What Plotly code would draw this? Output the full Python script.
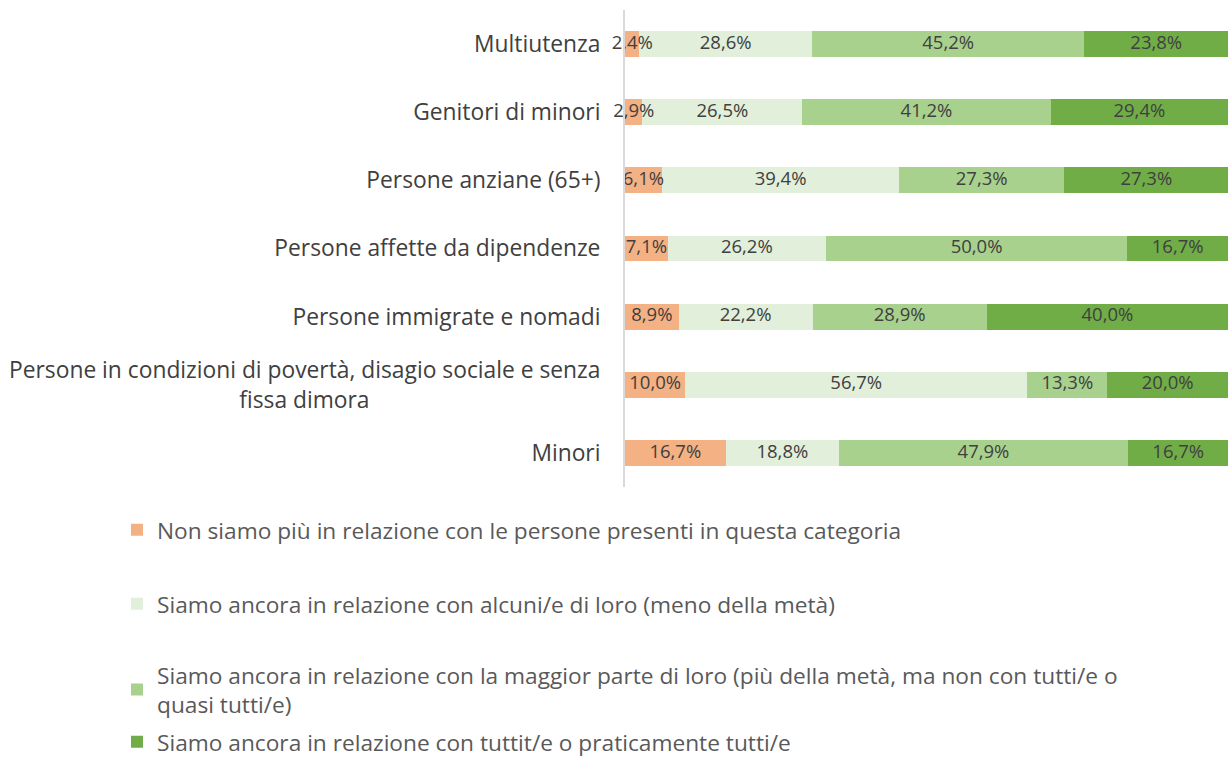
import plotly.graph_objects as go

categories = [
    "Multiutenza",
    "Genitori di minori",
    "Persone anziane (65+)",
    "Persone affette da dipendenze",
    "Persone immigrate e nomadi",
    "Persone in condizioni di povertà, disagio sociale e senza<br>fissa dimora" + "\u00a0" * 39,
    "Minori",
]

series_names = [
    "Non siamo più in relazione con le persone presenti in questa categoria",
    "Siamo ancora in relazione con alcuni/e di loro (meno della metà)",
    "Siamo ancora in relazione con la maggior parte di loro (più della metà, ma non con tutti/e o<br>quasi tutti/e)",
    "Siamo ancora in relazione con tuttit/e o praticamente tutti/e",
]

non_piu = [2.4, 2.9, 6.1, 7.1, 8.9, 10.0, 16.7]
alcuni = [28.6, 26.5, 39.4, 26.2, 22.2, 56.7, 18.8]
maggior_parte = [45.2, 41.2, 27.3, 50.0, 28.9, 13.3, 47.9]
tutti = [23.8, 29.4, 27.3, 16.7, 40.0, 20.0, 16.7]

values = [non_piu, alcuni, maggior_parte, tutti]
colors = ["#F4B183", "#E2EFDA", "#A9D18E", "#70AD47"]
legend_ids = ["legend", "legend2", "legend3", "legend4"]

W, H = 1228, 758
FONT = "Open Sans"
# plot area in pixels
PL, PR, PT, PB = 625, 1228, 10, 487
legend_y_px = [530, 604, 690, 742]
legend_x_px = 117

fig = go.Figure()
for name, vals, col, lid in zip(series_names, values, colors, legend_ids):
    fig.add_trace(go.Bar(
        y=categories,
        x=vals,
        name=name,
        orientation="h",
        marker=dict(color=col, line=dict(width=0)),
        legend=lid,
        hoverinfo="skip",
    ))

# data labels drawn on top of all bars, centred in each segment
for k, vals_i in enumerate(values):
    base = [sum(values[j][i] for j in range(k)) for i in range(len(categories))]
    mids = [b + v / 2 for b, v in zip(base, vals_i)]
    labels = [f"{v:.1f}%".replace(".", ",") for v in vals_i]
    fig.add_trace(go.Scatter(
        x=mids, y=categories, mode="text", text=labels,
        textposition="middle center",
        textfont=dict(family=FONT, size=18.5, color="#404040"),
        showlegend=False, hoverinfo="skip", cliponaxis=False,
    ))

pw, ph = PR - PL, PB - PT
legend_common = dict(
    xref="paper", yref="paper",
    x=(legend_x_px - PL) / pw, xanchor="left", yanchor="middle",
    orientation="v",
    bgcolor="rgba(0,0,0,0)",
    borderwidth=0,
    font=dict(family=FONT, size=22.7, color="#595959"),
)
layout_legends = {}
for lid, ypx in zip(legend_ids, legend_y_px):
    layout_legends[lid] = dict(legend_common, y=(PB - ypx) / ph)

fig.update_layout(
    width=W, height=H,
    margin=dict(l=PL, r=W - PR, t=PT, b=H - PB, pad=0, autoexpand=False),
    barmode="stack",
    bargap=0.62,
    plot_bgcolor="white",
    paper_bgcolor="white",
    showlegend=True,
    font=dict(family=FONT, color="#404040"),
    xaxis=dict(range=[0, 100], showgrid=False, showticklabels=False,
               zeroline=False, showline=False, fixedrange=True),
    yaxis=dict(categoryorder="array", categoryarray=categories,
               autorange="reversed", showgrid=False, zeroline=False,
               showline=True, linecolor="#D9D9D9", linewidth=2,
               ticks="", ticklabelstandoff=18, automargin=False,
               tickfont=dict(family=FONT, size=22.8, color="#404040")),
    **layout_legends,
)

fig.write_html("out.html", config={"displayModeBar": False},
               post_script="document.body.style.margin='0';")
